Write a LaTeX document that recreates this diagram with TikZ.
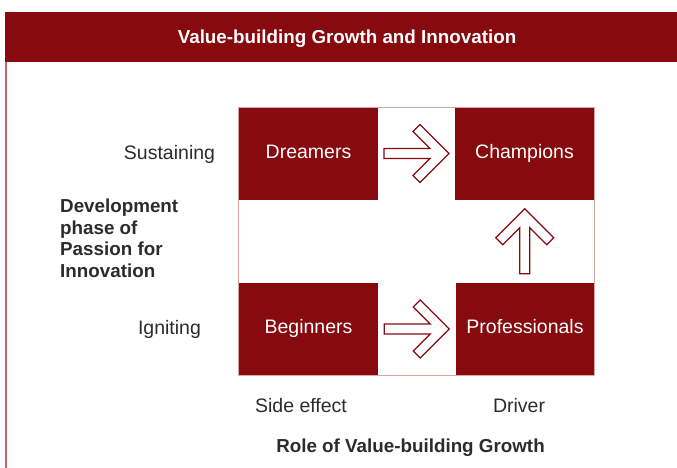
\documentclass[tikz,border=0pt]{standalone}
\usepackage{fontspec}
\setmainfont{Liberation Sans}
\usetikzlibrary{calc}

\definecolor{vbred}{HTML}{870A0E}
\definecolor{vbline}{HTML}{C46A6E}
\definecolor{vbframe}{HTML}{D9A5A7}
\definecolor{vbtext}{HTML}{2B2B2B}

\tikzset{
  phase/.style={fill=vbred, text=white, minimum width=139pt, minimum height=92pt,
    inner sep=0pt, text height=14pt, text depth=5pt, font=\fontsize{19.5}{22}\selectfont},
  axislabel/.style={text=vbtext, inner sep=0pt, anchor=base, font=\fontsize{19.5}{22}\selectfont},
  axistitle/.style={text=vbtext, inner sep=0pt, font=\bfseries\fontsize{18.8}{21.5}\selectfont},
  pics/openarrow/.style={code={
    \draw[vbred, line width=1.3pt, fill=white, line join=miter]
      (-32.5,-5) -- (13.5,-5) -- (-3.5,-22) -- (3.5,-29) -- (32.5,0) -- (3.5,29)
      -- (-3.5,22) -- (13.5,5) -- (-32.5,5) -- cycle;
  }}
}

\begin{document}
\begin{tikzpicture}[x=1pt, y=-1pt]
	\useasboundingbox (0,0) rectangle (677,468);
	% header band and left rule
	\fill[vbred] (5,12) rectangle (677,62);
	\fill[vbline] (5,62) rectangle (7,468);
	\node[text=white, anchor=base, inner sep=0pt, font=\bfseries\fontsize{18.8}{21.5}\selectfont]
	  (title) at (347,44) {Value-building Growth and Innovation};

	% the four phases
	\node[phase] (dreamers) at (308.5,153.5) {Dreamers};
	\node[phase] (champions) at (524.5,153.5) {Champions};
	\node[phase] (beginners) at (308.5,329) {Beginners};
	\node[phase] (professionals) at (525,329) {Professionals};
	\draw[vbframe, line width=0.8pt] (dreamers.north west) rectangle (professionals.south east);

	% moves between phases
	\pic at ($(dreamers.east)!0.5!(champions.west)$) {openarrow};
	\pic at ($(beginners.east)!0.5!(professionals.west)$) {openarrow};
	\pic[rotate=90] at ($(professionals.north)!0.5!(champions.south)$) {openarrow};

	% axes
	\node[axislabel] (sustaining) at (169.5,159) {Sustaining};
	\node[axislabel] (igniting) at (169.5,334) {Igniting};
	\node[axistitle, align=left, anchor=north west] (phaseaxis) at (60,199)
	  {Development\\phase of\\Passion for\\Innovation};
	\node[axislabel] (sideeffect) at (301,412) {Side effect};
	\node[axislabel] (driver) at (519,412) {Driver};
	\node[axistitle, anchor=base] (roleaxis) at (410.5,452) {Role of Value-building Growth};
\end{tikzpicture}
\end{document}
